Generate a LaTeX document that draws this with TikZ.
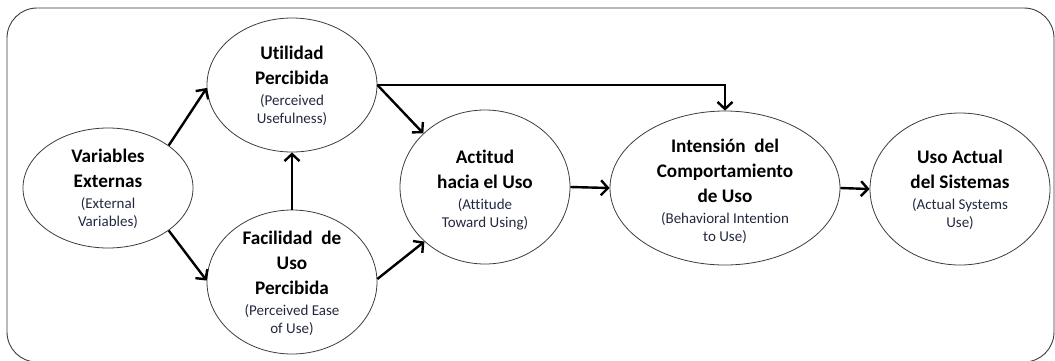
\documentclass[tikz,border=0pt]{standalone}
\usepackage{fontspec}
\setmainfont{Carlito}[Ligatures=NoCommon]
\usetikzlibrary{shapes.geometric,arrows.meta}
\definecolor{subtxt}{RGB}{35,40,62}
\definecolor{rim}{RGB}{60,60,60}
% English gloss under each Spanish construct name
\newcommand\engl[1]{{\fontsize{15}{18}\selectfont\color{subtxt}#1}}

\begin{document}
\begin{tikzpicture}[x=1pt,y=-1pt,
  oval/.style={draw=rim, line width=0.8pt, ellipse, inner sep=0pt},
  lbl/.style={align=center, inner sep=0pt, font=\fontsize{19.2}{25}\selectfont},
  link/.style={line width=2.4pt, line cap=butt,
    -{Straight Barb[length=7pt,width=15pt,line width=2.4pt]}},
  frame/.style={draw=rim, line width=0.9pt, rounded corners=30pt}
]
\useasboundingbox (0,0) rectangle (1055,360);
\draw[frame] (7,8) rectangle (1054,362);

% constructs
\node[oval, minimum width=170pt, minimum height=120pt] (ve)  at (108,188) {};
\node[oval, minimum width=170pt, minimum height=134pt] (up)  at (292,85)  {};
\node[oval, minimum width=170pt, minimum height=144pt] (fup) at (292,282) {};
\node[oval, minimum width=170pt, minimum height=154pt] (act) at (485,187) {};
\node[oval, minimum width=230pt, minimum height=154pt] (int) at (725,188) {};
\node[oval, minimum width=180pt, minimum height=152pt] (uso) at (960,189) {};

% labels
\node[lbl] (ve-t) at (108,189) {\textbf{Variables}\\\textbf{Externas}\\[-4pt]\engl{(External}\\[-7pt]\engl{Variables)}};
\node[lbl] (up-t) at (292,86) {\textbf{Utilidad}\\\textbf{Percibida}\\[-4pt]\engl{(Perceived}\\[-7pt]\engl{Usefulness)}};
\node[lbl] (fup-t) at (292,283) {\textbf{Facilidad\ \ de}\\\textbf{Uso}\\\textbf{Percibida}\\[-4pt]\engl{(Perceived Ease}\\[-7pt]\engl{of Use)}};
\node[lbl] (act-t) at (485,190) {\textbf{Actitud}\\\textbf{hacia\ el Uso}\\[-4pt]\engl{(Attitude}\\[-7pt]\engl{Toward Using)}};
\node[lbl] (int-t) at (725,191) {\textbf{Intensión\ \ del}\\\textbf{Comportamiento}\\\textbf{de Uso}\\[-4pt]\engl{(Behavioral Intention}\\[-7pt]\engl{to Use)}};
\node[lbl] (uso-t) at (960,190) {\textbf{Uso Actual}\\\textbf{del Sistemas}\\[-4pt]\engl{(Actual Systems}\\[-7pt]\engl{Use)}};

% relations
\draw[link] (ve.35) -- (up.182);
\draw[link] (ve.-35) -- (fup.179);
\draw[link] (fup.north) -- (up.south);
\draw[link] (up.east) -- (act.139);
\draw[link] (fup.2) -- (act.222);
\draw[link] (up.east) -| (int.north);
\draw[link] (act.east) -- (int.west);
\draw[link] (int.east) -- (uso.west);
\end{tikzpicture}
\end{document}
